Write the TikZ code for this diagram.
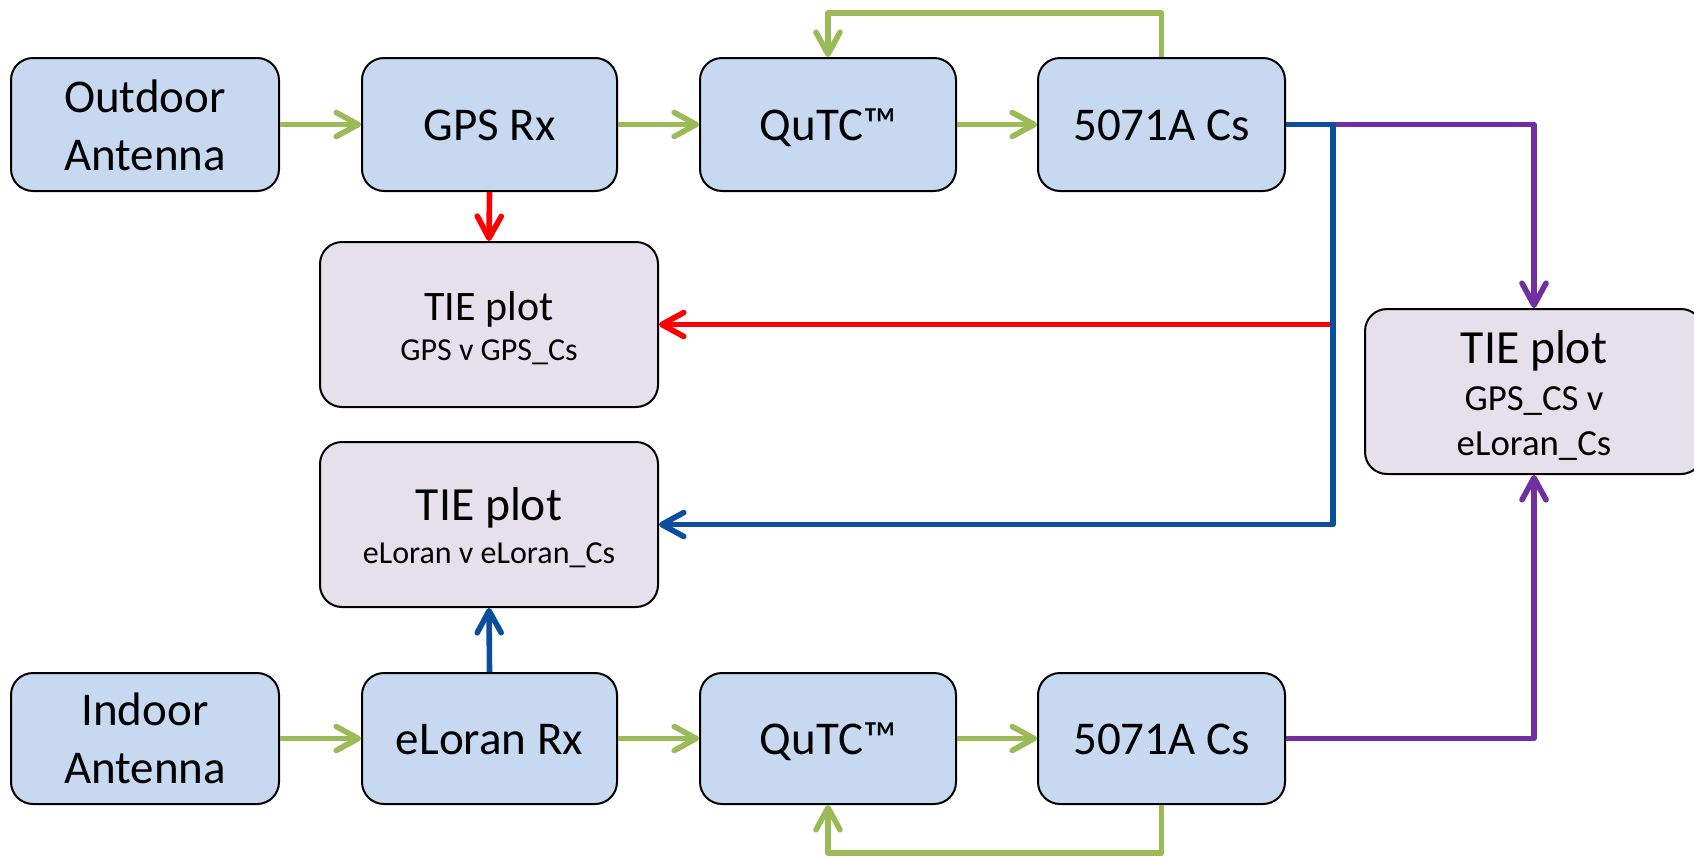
\documentclass[tikz,border=0pt]{standalone}
\usepackage{fontspec}
\setmainfont{Carlito}
\usetikzlibrary{arrows.meta}
\definecolor{boxblue}{HTML}{C6D9F1}
\definecolor{boxlilac}{HTML}{E6E0EC}
\definecolor{lgreen}{HTML}{9BBB59}
\definecolor{dblue}{HTML}{0B4F9C}
\definecolor{lred}{HTML}{FF0000}
\definecolor{lpurple}{HTML}{7030A0}
\begin{document}
\begin{tikzpicture}[x=0.5pt,y=-0.5pt,
  box/.style={draw=black, line width=1pt, rounded corners=11pt, fill=boxblue, inner sep=0pt},
  tiebox/.style={box, fill=boxlilac},
  bw/.style={minimum width=#1*0.5pt},
  bh/.style={minimum height=#1*0.5pt},
  txt/.style={anchor=base, inner sep=0pt, font=\fontsize{23.5}{28}\selectfont},
  conn/.style={line width=2.8pt, line join=round, -{Straight Barb[round,length=11pt,width=12pt]}},
  gconn/.style={conn, draw=lgreen},
  rconn/.style={conn, draw=lred},
  bconn/.style={conn, draw=dblue},
  pconn/.style={conn, draw=lpurple}]
\useasboundingbox (0,0) rectangle (1694,857);
% boxes
\node[box, bw=268, bh=133] (oa) at (145,124.5) {};
\node[box, bw=255, bh=133] (gps) at (489.5,124.5) {};
\node[box, bw=256, bh=133] (q1) at (828,124.5) {};
\node[box, bw=247, bh=133] (cs1) at (1161.5,124.5) {};
\node[tiebox, bw=338, bh=165] (tie1) at (489,324.5) {};
\node[tiebox, bw=338, bh=165] (tie2) at (489,524.5) {};
\node[tiebox, bw=338, bh=165] (tie3) at (1534,391.5) {};
\node[box, bw=268, bh=131] (ia) at (145,738.5) {};
\node[box, bw=255, bh=131] (el) at (489.5,738.5) {};
\node[box, bw=256, bh=131] (q2) at (828,738.5) {};
\node[box, bw=247, bh=131] (cs2) at (1161.5,738.5) {};
% texts
\node[txt] (oat1) at (145,112) {Outdoor};
\node[txt] (oat2) at (145,170) {Antenna};
\node[txt] (gpst) at (489.5,140) {GPS Rx};
\node[txt] (q1t) at (828,140) {QuTC™};
\node[txt] (cs1t) at (1161.5,140) {5071A Cs};
\node[txt, font=\fontsize{21}{25}\selectfont] (tie1t1) at (489,320) {TIE plot};
\node[txt, font=\fontsize{16}{19}\selectfont] (tie1t2) at (489,360) {GPS v GPS\_Cs};
\node[txt, font=\fontsize{23.8}{28}\selectfont] (tie2t1) at (489,520) {TIE plot};
\node[txt, font=\fontsize{16}{19}\selectfont] (tie2t2) at (489,563) {eLoran v eLoran\_Cs};
\node[txt, font=\fontsize{23.8}{28}\selectfont] (tie3t1) at (1534,363) {TIE plot};
\node[txt, font=\fontsize{18.4}{22}\selectfont] (tie3t2) at (1534,410) {GPS\_CS v};
\node[txt, font=\fontsize{18.4}{22}\selectfont] (tie3t3) at (1534,455) {eLoran\_Cs};
\node[txt] (iat1) at (145,725) {Indoor};
\node[txt] (iat2) at (145,783) {Antenna};
\node[txt] (elt) at (489.5,754) {eLoran Rx};
\node[txt] (q2t) at (828,754) {QuTC™};
\node[txt] (cs2t) at (1161.5,754) {5071A Cs};
% junction coordinates
\coordinate (ltop) at (828,13);
\coordinate (lbot) at (828,853);
\coordinate (bj) at (1333,124.5);
\coordinate (rj) at (1333,324.5);
% green connectors
\draw[gconn] (oa.east) -- (gps.west);
\draw[gconn] (gps.east) -- (q1.west);
\draw[gconn] (q1.east) -- (cs1.west);
\draw[gconn] (cs1.north) |- (ltop) -- (q1.north);
\draw[gconn] (ia.east) -- (el.west);
\draw[gconn] (el.east) -- (q2.west);
\draw[gconn] (q2.east) -- (cs2.west);
\draw[gconn] (cs2.south) |- (lbot) -- (q2.south);
% red
\draw[rconn] (gps.south) -- (tie1.north);
\draw[rconn] (rj) -- (tie1.east);
% purple
\draw[pconn] (bj) -| (tie3.north);
\draw[pconn] (cs2.east) -| (tie3.south);
% blue
\draw[bconn] (cs1.east) -- (bj) |- (tie2.east);
\draw[bconn] (el.north) -- (tie2.south);
\end{tikzpicture}
\end{document}
